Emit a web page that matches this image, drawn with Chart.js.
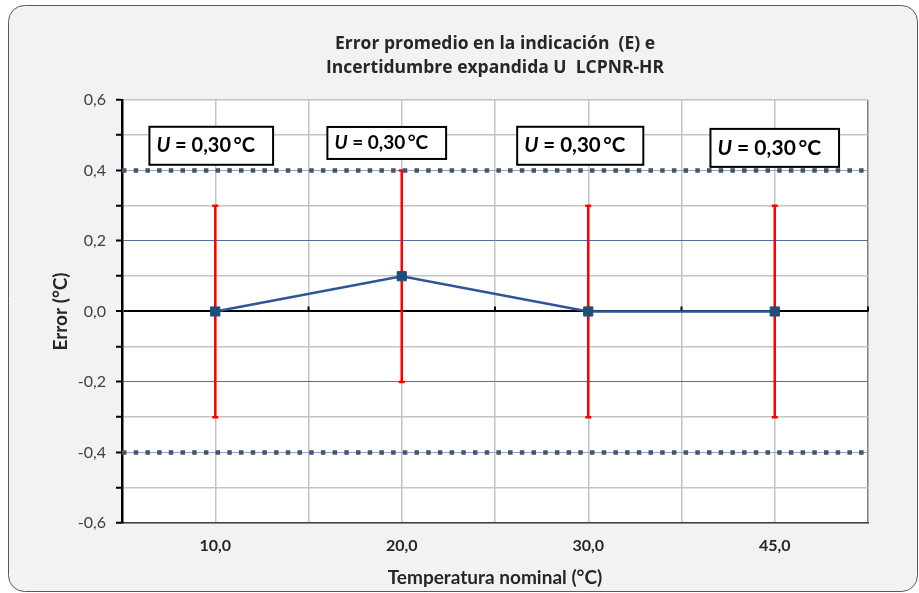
<!DOCTYPE html>
<html>
<head>
<meta charset="utf-8">
<script src="https://cdn.jsdelivr.net/npm/chart.js@4"></script>
<style>
  html, body { margin: 0; padding: 0; background: #fff; }
</style>
</head>
<body>
<canvas id="chart" width="919" height="593"></canvas>
<script>
// chart data
const categories = ['10,0', '20,0', '30,0', '45,0'];
const errorValues = [0, 0.1, 0, 0];
const uPlus = [0.3, 0.3, 0.3, 0.3];
const uMinus = [0.3, 0.3, 0.3, 0.3];
const limitX = [0, 8];          // on the half-category axis (x2)
const limitUpper = [0.4, 0.4];
const limitLower = [-0.4, -0.4];
const uText = ['0,30', '0,30', '0,30', '0,30'];

const F = "Lato, 'Open Sans', sans-serif";
const FT = "'Open Sans', Lato, sans-serif";

// where the "U = ..." boxes go (category index, y value, font size, nudge)
const notes = [
  { i: 0, y: 0.47, size: 20, dx: -4, h: 38 },
  { i: 1, y: 0.478, size: 19, dx: -15, h: 32 },
  { i: 2, y: 0.47, size: 20.5, dx: -8, h: 38 },
  { i: 3, y: 0.464, size: 21, dx: 0, h: 38 }
];

const framePlugin = {
  id: 'frame',
  beforeDraw(chart) {
    const c = chart.ctx, a = chart.chartArea;
    c.save();
    c.fillStyle = '#fff';
    c.fillRect(0, 0, chart.width, chart.height);
    c.beginPath();
    c.roundRect(8.5, 5.5, 909, 586, 16);
    c.fillStyle = '#f2f2f2';
    c.fill();
    c.strokeStyle = '#595959';
    c.lineWidth = 1;
    c.stroke();
    c.fillStyle = '#fff';
    c.fillRect(a.left, a.top, a.right - a.left, a.bottom - a.top);
    c.restore();
  },
  beforeDatasetsDraw(chart) {
    const c = chart.ctx, x = chart.scales.x, x2 = chart.scales.x2, y = chart.scales.y;
    c.save();
    // small ticks on the zero line at category boundaries
    const y0 = y.getPixelForValue(0);
    c.strokeStyle = '#000';
    c.lineWidth = 2;
    [2, 4, 6, 8].forEach(k => {
      const px = x2.getPixelForValue(k);
      c.beginPath();
      c.moveTo(px, y0);
      c.lineTo(px, y0 - 5);
      c.stroke();
    });
    // error bars
    c.strokeStyle = '#ff0000';
    c.lineWidth = 2.5;
    errorValues.forEach((v, i) => {
      const px = x.getPixelForValue(i);
      const top = y.getPixelForValue(v + uPlus[i]);
      const bot = y.getPixelForValue(v - uMinus[i]);
      c.beginPath();
      c.moveTo(px, top); c.lineTo(px, bot);
      c.moveTo(px - 3, top); c.lineTo(px + 3, top);
      c.moveTo(px - 3, bot); c.lineTo(px + 3, bot);
      c.stroke();
    });
    c.restore();
  },
  afterDatasetsDraw(chart) {
    const c = chart.ctx, x = chart.scales.x, y = chart.scales.y;
    c.save();
    notes.forEach((n, k) => {
      const s = n.size;
      const rest = ' = ' + uText[k] + '\u2009°C';
      c.font = `italic bold ${s}px ${F}`;
      const wU = c.measureText('U').width;
      c.font = `bold ${s}px ${F}`;
      const wR = c.measureText(rest).width;
      const w = wU + wR;
      const cx = x.getPixelForValue(n.i) + n.dx;
      const cy = y.getPixelForValue(n.y);
      const padL = 7, padR = 18, h = n.h;
      const bx = cx - (w + padL + padR) / 2;
      c.fillStyle = '#fff';
      c.fillRect(bx, cy - h / 2, w + padL + padR, h);
      c.strokeStyle = '#000';
      c.lineWidth = 2;
      c.strokeRect(bx, cy - h / 2, w + padL + padR, h);
      c.fillStyle = '#000';
      c.textBaseline = 'middle';
      c.textAlign = 'left';
      c.font = `italic bold ${s}px ${F}`;
      c.fillText('U', bx + padL, cy);
      c.font = `bold ${s}px ${F}`;
      c.fillText(rest, bx + padL + wU, cy);
    });
    c.restore();
  }
};

function tenth(v) { return Math.round(v * 10); }

new Chart(document.getElementById('chart'), {
  type: 'line',
  data: {
    labels: categories,
    datasets: [
      {
        label: 'E',
        data: errorValues,
        xAxisID: 'x',
        borderColor: '#2f5597',
        borderWidth: 2.5,
        pointStyle: 'rect',
        pointRadius: 6.5,
        pointBorderWidth: 1,
        pointBackgroundColor: '#1f4e79',
        pointBorderColor: '#1f4e79',
        tension: 0
      },
      {
        label: '+0,4',
        data: limitX.map((v, i) => ({ x: v, y: limitUpper[i] })),
        xAxisID: 'x2',
        borderColor: '#44546a',
        borderWidth: 4.5,
        borderDash: [4.5, 7.2],
        borderCapStyle: 'butt',
        pointRadius: 0
      },
      {
        label: '-0,4',
        data: limitX.map((v, i) => ({ x: v, y: limitLower[i] })),
        xAxisID: 'x2',
        borderColor: '#44546a',
        borderWidth: 4.5,
        borderDash: [4.5, 7.2],
        borderCapStyle: 'butt',
        pointRadius: 0
      }
    ]
  },
  options: {
    responsive: false,
    devicePixelRatio: 1,
    animation: false,
    layout: { padding: { top: 0, left: 0, right: 51, bottom: 0 } },
    plugins: {
      legend: { display: false },
      tooltip: { enabled: false },
      title: {
        display: true,
        fullSize: false,
        text: ['Error promedio en la indicación  (E) e', 'Incertidumbre expandida U  LCPNR-HR'],
        color: '#262626',
        font: { family: FT, size: 17.5, weight: 'bold', lineHeight: 1.37 },
        padding: { top: 32, bottom: 20 }
      }
    },
    scales: {
      x: {
        type: 'category',
        offset: true,
        grid: { display: false, drawTicks: false },
        border: { display: true, color: '#404040', width: 1.5 },
        ticks: { color: '#262626', font: { family: F, size: 16, weight: 'bold' }, padding: 13.5 },
        title: {
          display: true,
          text: 'Temperatura nominal (°C)',
          color: '#262626',
          font: { family: F, size: 19, weight: 'bold' },
          padding: { top: 0, bottom: 4 }
        },
        afterFit: s => { s.height = 70; }
      },
      x2: {
        type: 'linear',
        position: 'bottom',
        min: 0,
        max: 8,
        ticks: { display: false, stepSize: 1, maxTicksLimit: 20 },
        grid: {
          color: c => c.tick.value === 8 ? '#808080' : '#c4c4c4',
          lineWidth: 1.5,
          drawTicks: false
        },
        border: { display: false },
        afterFit: s => { s.height = 0; }
      },
      y: {
        min: -0.6,
        max: 0.6,
        ticks: {
          stepSize: 0.1,
          maxTicksLimit: 20,
          autoSkip: false,
          color: '#404040',
          font: { family: F, size: 16 },
          padding: 10,
          callback: v => {
            const t = tenth(v);
            return t % 2 === 0 ? (t / 10).toFixed(1).replace('.', ',') : '';
          }
        },
        grid: {
          color: c => {
            const t = Math.abs(tenth(c.tick.value));
            if (t === 0) return '#000';
            if (t === 2) return '#4f71a0';
            if (t === 4) return '#8fa5c3';
            return '#c4c4c4';
          },
          lineWidth: c => {
            const t = Math.abs(tenth(c.tick.value));
            if (t === 0) return 2;
            if (t === 2 || t === 4) return 1;
            return 1.5;
          },
          tickLength: 6,
          tickColor: '#000',
          tickWidth: 2
        },
        border: { color: '#000', width: 2.5 },
        title: {
          display: true,
          text: 'Error (°C)',
          color: '#262626',
          font: { family: F, size: 19, weight: 'bold' },
          padding: { top: 49, bottom: 0 }
        },
        afterFit: s => { s.width = 122; }
      }
    }
  },
  plugins: [framePlugin]
});
</script>
</body>
</html>
